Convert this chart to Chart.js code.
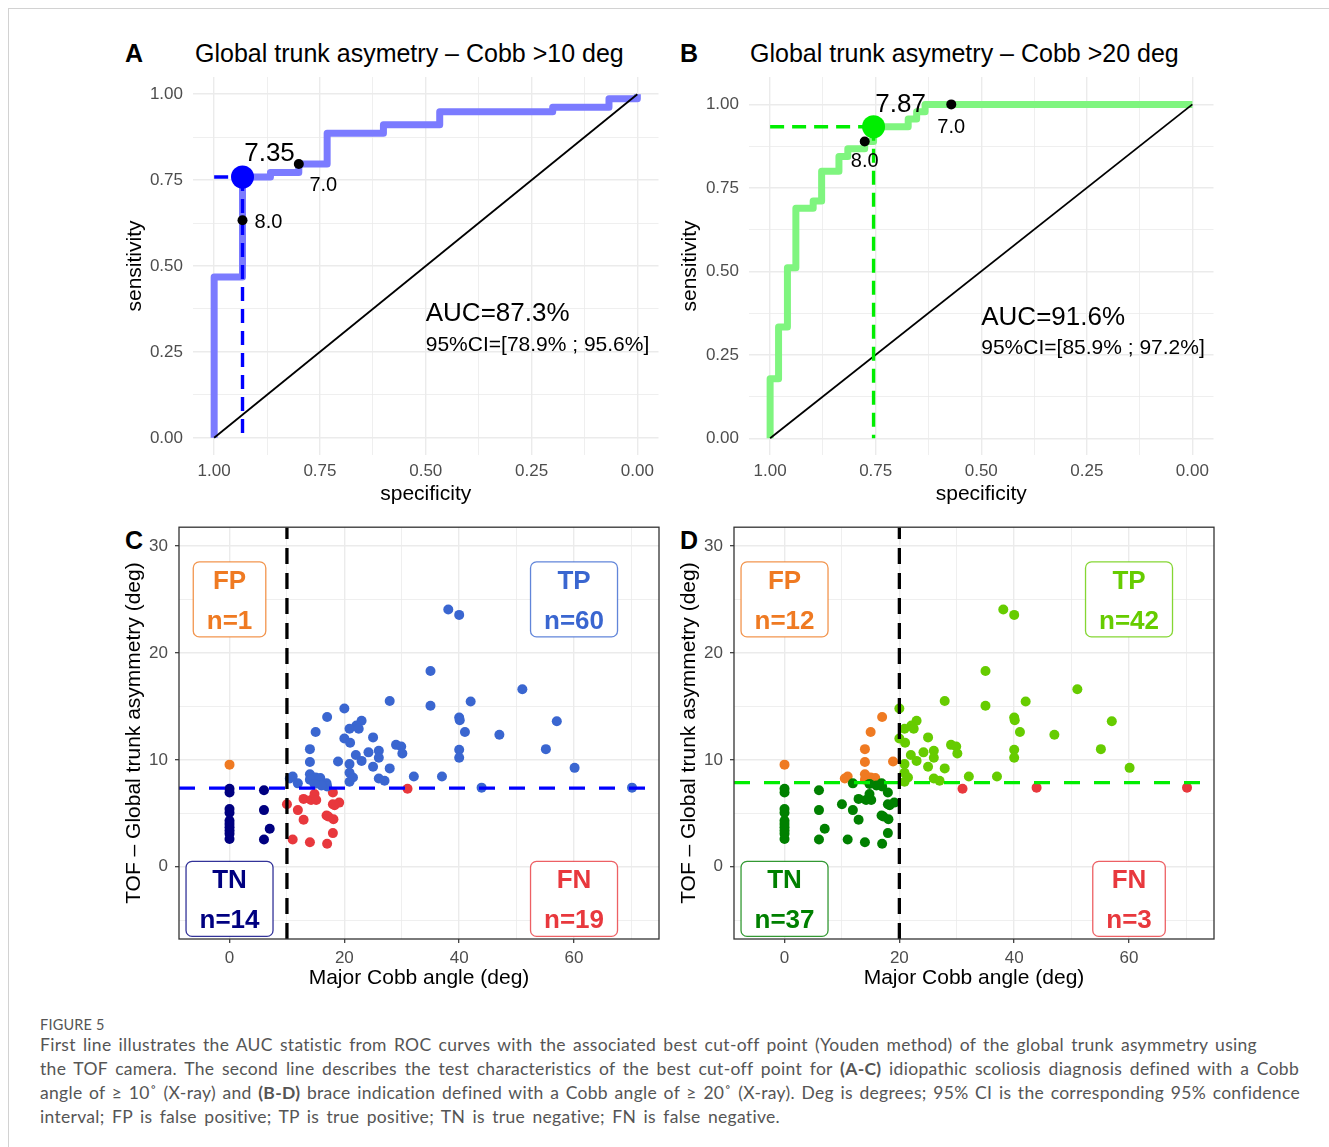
<!DOCTYPE html>
<html>
<head>
<meta charset="utf-8">
<script src="https://cdn.jsdelivr.net/npm/chart.js@4.4.1/dist/chart.umd.min.js"></script>
<style>
  body { margin: 0; background: #fff; width: 1329px; height: 1147px; position: relative; overflow: hidden;
         font-family: "Liberation Sans", Arial, sans-serif; }
  .frame { position: absolute; left: 8px; top: 8px; width: 1321px; height: 1139px;
           border-top: 1px solid #d2d2d2; border-left: 1px solid #d2d2d2; }
  canvas { position: absolute; }
  .ttl { position: absolute; font-size: 25px; line-height: 30px; white-space: nowrap; color: #000; }
  .tag { position: absolute; font-size: 25px; line-height: 30px; font-weight: bold; color: #000; }
  .cap { position: absolute; left: 40px; font-family: Lato, "Open Sans", sans-serif; color: #555; }
  .capt { font-size: 17.5px; line-height: 24px; letter-spacing: 0.3px; }
  .capt span.l { display: inline-block; white-space: nowrap; }
</style>
</head>
<body>
<div class="frame"></div>

<div class="tag" style="left:125px;top:38px">A</div>
<div class="ttl" style="left:195px;top:38px">Global trunk asymetry – Cobb &gt;10 deg</div>
<div class="tag" style="left:680px;top:38px">B</div>
<div class="ttl" style="left:750px;top:38px">Global trunk asymetry – Cobb &gt;20 deg</div>
<div class="tag" style="left:125px;top:525px">C</div>
<div class="tag" style="left:680px;top:525px">D</div>

<canvas id="rocA" width="580" height="490" style="left:90px;top:30px"></canvas>
<canvas id="rocB" width="580" height="490" style="left:645px;top:30px"></canvas>
<canvas id="quadC" width="580" height="490" style="left:90px;top:510px"></canvas>
<canvas id="quadD" width="580" height="490" style="left:645px;top:510px"></canvas>

<div class="cap" style="top:1016px;font-size:14.5px;line-height:18px;letter-spacing:0.2px">FIGURE 5</div>
<div class="cap capt" style="top:1033px">
  <span class="l" data-w="1217">First line illustrates the AUC statistic from ROC curves with the associated best cut-off point (Youden method) of the global trunk asymmetry using</span><br>
  <span class="l" data-w="1259">the TOF camera. The second line describes the test characteristics of the best cut-off point for <b>(A-C)</b> idiopathic scoliosis diagnosis defined with a Cobb</span><br>
  <span class="l" data-w="1260">angle of ≥ 10˚ (X-ray) and <b>(B-D)</b> brace indication defined with a Cobb angle of ≥ 20˚ (X-ray). Deg is degrees; 95% CI is the corresponding 95% confidence</span><br>
  <span class="l" data-w="740">interval; FP is false positive; TP is true positive; TN is true negative; FN is false negative.</span>
</div>

<script>
// ROC curves, path vertices (specificity, sensitivity)
const rocASpec = [1, 1, 0.933, 0.933, 0.867, 0.867, 0.8, 0.8, 0.733, 0.733, 0.6, 0.6, 0.467, 0.467, 0.2, 0.2, 0.067, 0.067, 0, 0];
const rocASens = [0, 0.468, 0.468, 0.759, 0.759, 0.772, 0.772, 0.797, 0.797, 0.886, 0.886, 0.911, 0.911, 0.949, 0.949, 0.962, 0.962, 0.987, 0.987, 1];
const rocBSpec = [1, 1, 0.980, 0.980, 0.959, 0.959, 0.939, 0.939, 0.898, 0.898, 0.878, 0.878, 0.837, 0.837, 0.816, 0.816, 0.776, 0.776, 0.755, 0.755, 0.673, 0.673, 0.653, 0.653, 0.633, 0.633, 0];
const rocBSens = [0, 0.178, 0.178, 0.333, 0.333, 0.511, 0.511, 0.689, 0.689, 0.711, 0.711, 0.8, 0.8, 0.844, 0.844, 0.867, 0.867, 0.889, 0.889, 0.933, 0.933, 0.956, 0.956, 0.978, 0.978, 1, 1];

// thresholds: first one is the best cut-off (Youden)
const thrALabel = ['7.35', '7.0', '8.0'];
const thrASpec = [0.933, 0.8, 0.933];
const thrASens = [0.759, 0.797, 0.633];
const thrBLabel = ['7.87', '7.0', '8.0'];
const thrBSpec = [0.755, 0.571, 0.776];
const thrBSens = [0.933, 1.0, 0.889];

const aucText = ['AUC=87.3%', 'AUC=91.6%'];
const ciText = ['95%CI=[78.9% ; 95.6%]', '95%CI=[85.9% ; 97.2%]'];

// scatter: major Cobb angle vs TOF global trunk asymmetry (deg)
const cobbAngle = [
  0, 0, 0, 0, 0, 0, 0, 0, 0, 0, 6, 6, 7, 6,
  0,
  10.0, 11.0, 11.9, 12.9, 12.9, 14.0, 14.2, 14.8, 15.1, 16.9, 17.0, 17.2, 18.0, 18.0, 18.1, 18.0, 19.1, 18.3, 31.0,
  17.0, 15.0, 14.0, 18.9, 14.0, 14.0, 11.0, 15.0, 14.0, 10.5, 15.8, 11.9, 16.9, 17.0, 16.0, 14.8,
  38.1, 40.0, 35.0, 51.0, 27.9, 42.0, 35.0, 20.0, 23.0, 22.1, 20.9, 57.0, 40.0, 40.1, 41.0, 47.0, 25.0, 20.0, 21.0, 29.0,
  29.9, 30.1, 26.0, 26.0, 40.0, 40.0, 55.1, 22.0, 23.0, 20.9, 25.0, 27.9, 60.1, 20.9, 26.0, 27.0, 32.1, 37.0, 20.9, 21.5,
  24.2, 22.5, 43.9, 70.1
];
const tofAsym = [
  7.3, 6.95, 5.4, 5.05, 4.3, 4.0, 3.7, 3.4, 3.1, 2.6, 7.15, 5.3, 3.55, 2.55,
  9.55,
  5.85, 2.55, 5.3, 4.4, 6.35, 2.3, 6.25, 6.8, 6.25, 4.8, 2.15, 4.7, 6.95, 5.85, 4.45, 3.15, 6.0, 5.75, 7.3,
  14.0, 12.6, 11.0, 9.85, 9.8, 8.65, 8.45, 8.35, 8.15, 8.25, 8.3, 7.8, 7.8, 7.5, 7.6, 7.75,
  24.05, 23.55, 18.3, 16.6, 15.5, 15.45, 15.05, 14.8, 13.65, 13.2, 12.9, 13.6, 13.95, 13.7, 12.6, 12.35, 12.1, 12.0, 11.6, 11.4,
  11.25, 10.6, 10.85, 10.2, 10.95, 10.2, 11.0, 10.45, 9.9, 9.6, 9.35, 9.2, 9.25, 8.8, 8.25, 8.05, 8.45, 8.45, 7.95, 8.35,
  10.7, 12.9, 7.4, 7.4
];

// cut-offs [Cobb, TOF]
const cutC = [10, 7.35];
const cutD = [20, 7.87];

const quadNames = ['FP', 'TP', 'TN', 'FN'];
const quadCobb = [0, 60, 0, 60];
const quadTof = [25, 25, -3, -3];
const countsC = [1, 60, 14, 19];
const countsD = [12, 42, 37, 3];

// caption lines: stretch word spacing so each line ends where the reference does
document.querySelectorAll('.capt span.l').forEach(el => {
  const target = +el.dataset.w;
  const spaces = (el.textContent.match(/ /g) || []).length;
  const natural = el.getBoundingClientRect().width;
  el.style.wordSpacing = ((target - natural) / spaces).toFixed(2) + 'px';
});

Chart.defaults.font.family = '"Liberation Sans", Arial, sans-serif';
Chart.defaults.color = '#4d4d4d';

const FONT = '"Liberation Sans", Arial, sans-serif';
const pts = (xs, ys) => xs.map((x, i) => ({ x: x, y: ys[i] }));
const near = (v, step) => Math.abs(v / step - Math.round(v / step)) < 1e-6;

function rocChart(id, o) {
  const best = { s: o.spec[0], n: o.sens[0] };
  const textPlugin = {
    id: 'rocText',
    afterDatasetsDraw(chart) {
      const { ctx, scales: { x, y } } = chart;
      ctx.save();
      ctx.fillStyle = '#000';
      ctx.textBaseline = 'alphabetic';
      ctx.textAlign = 'center';
      o.labels.forEach((t, i) => {
        const size = i === 0 ? 26 : 20;
        ctx.font = size + 'px ' + FONT;
        ctx.fillText(t, x.getPixelForValue(o.spec[i]) + o.off[i][0],
                     y.getPixelForValue(o.sens[i]) + o.off[i][1] + size * 0.358);
      });
      ctx.textAlign = 'left';
      ctx.font = '26px ' + FONT;
      ctx.fillText(o.auc, x.getPixelForValue(0.5), y.getPixelForValue(0.367) + 26 * 0.358);
      ctx.font = '21px ' + FONT;
      ctx.fillText(o.ci, x.getPixelForValue(0.5), y.getPixelForValue(0.275) + 21 * 0.358);
      ctx.restore();
    }
  };
  const ticks = [0, 0.125, 0.25, 0.375, 0.5, 0.625, 0.75, 0.875, 1];
  const grid = {
    color: '#ebebeb',
    lineWidth: c => (c.tick && near(c.tick.value, 0.25)) ? 1.4 : 0.8,
    drawTicks: false
  };
  return new Chart(document.getElementById(id), {
    type: 'line',
    data: {
      datasets: [
        { data: pts(o.rocSpec, o.rocSens), borderColor: o.light, borderWidth: 7, borderJoinStyle: 'round', pointRadius: 0, order: 5 },
        { data: [{ x: 1, y: 0 }, { x: 0, y: 1 }], borderColor: '#000', borderWidth: 1.8, pointRadius: 0, order: 4 },
        { data: [{ x: 1, y: best.n }, { x: best.s, y: best.n }], borderColor: o.dark, borderWidth: 3.4, borderDash: [14, 8], pointRadius: 0, order: 3 },
        { data: [{ x: best.s, y: best.n }, { x: best.s, y: 0 }], borderColor: o.dark, borderWidth: 3.4, borderDash: [14, 8], pointRadius: 0, order: 3 },
        { type: 'scatter', data: pts(o.spec.slice(1), o.sens.slice(1)), pointRadius: 5, pointBackgroundColor: '#000', pointBorderWidth: 0, order: 2 },
        { type: 'scatter', data: [{ x: best.s, y: best.n }], pointRadius: 11.5, pointBackgroundColor: o.dark, pointBorderWidth: 0, order: 1 }
      ]
    },
    options: {
      responsive: false, animation: false, devicePixelRatio: 1,
      layout: { padding: { top: 47, right: 11, left: 0, bottom: 0 } },
      plugins: { legend: { display: false }, tooltip: { enabled: false } },
      scales: {
        x: {
          type: 'linear', reverse: true, min: -0.05, max: 1.05,
          afterBuildTicks: s => { s.ticks = ticks.map(v => ({ value: v })); },
          afterFit: s => { s.height = 65; },
          grid: grid, border: { display: false },
          ticks: { autoSkip: false, maxRotation: 0, padding: 6.5, color: '#4d4d4d', font: { size: 17 },
                   callback: v => near(v, 0.25) ? v.toFixed(2) : '' },
          title: { display: true, text: 'specificity', color: '#000', font: { size: 21 }, padding: { top: 0, bottom: 13.4 } }
        },
        y: {
          type: 'linear', min: -0.05, max: o.yMax,
          afterBuildTicks: s => { s.ticks = ticks.map(v => ({ value: v })); },
          afterFit: s => { s.width = o.yW; },
          grid: grid, border: { display: false },
          ticks: { autoSkip: false, padding: 10, color: '#4d4d4d', font: { size: 17 },
                   callback: v => near(v, 0.25) ? v.toFixed(2) : '' },
          title: { display: true, text: 'sensitivity', color: '#000', font: { size: 21 }, padding: { top: 32.4, bottom: 0 } }
        }
      }
    },
    plugins: [textPlugin]
  });
}

rocChart('rocA', {
  rocSpec: rocASpec, rocSens: rocASens,
  labels: thrALabel, spec: thrASpec, sens: thrASens,
  off: [[27, -25], [24.5, 20], [26, 1]],
  auc: aucText[0], ci: ciText[0],
  light: '#7b7bff', dark: '#0000ff', yMax: 1.05, yW: 103
});
rocChart('rocB', {
  rocSpec: rocBSpec, rocSens: rocBSens,
  labels: thrBLabel, spec: thrBSpec, sens: thrBSens,
  off: [[27, -24], [0, 21], [0, 18]],
  auc: aucText[1], ci: ciText[1],
  light: '#7ff57f', dark: '#00ee00', yMax: 1.082, yW: 104
});

function roundBox(ctx, x, y, w, h, r) {
  ctx.beginPath();
  ctx.moveTo(x + r, y);
  ctx.lineTo(x + w - r, y); ctx.arcTo(x + w, y, x + w, y + r, r);
  ctx.lineTo(x + w, y + h - r); ctx.arcTo(x + w, y + h, x + w - r, y + h, r);
  ctx.lineTo(x + r, y + h); ctx.arcTo(x, y + h, x, y + h - r, r);
  ctx.lineTo(x, y + r); ctx.arcTo(x, y, x + r, y, r);
  ctx.closePath();
}

function quadChart(id, o) {
  const X0 = -8.8, X1 = 74.8, Y0 = -6.75, Y1 = 31.75;
  const colors = cobbAngle.map((c, i) => {
    const pos = c >= o.cut[0], hi = tofAsym[i] >= o.cut[1];
    return hi ? (pos ? o.col.TP : o.col.FP) : (pos ? o.col.FN : o.col.TN);
  });
  const boxPlugin = {
    id: 'quadBoxes',
    afterDatasetsDraw(chart) {
      const { ctx, chartArea: a, scales: { x, y } } = chart;
      ctx.save();
      ctx.font = 'bold 26px ' + FONT;
      ctx.textAlign = 'center';
      ctx.textBaseline = 'alphabetic';
      quadNames.forEach((q, i) => {
        const cx = x.getPixelForValue(quadCobb[i]), cy = y.getPixelForValue(quadTof[i]);
        const l2 = 'n=' + o.counts[i];
        const w = Math.max(ctx.measureText(q).width, ctx.measureText(l2).width) + 27, h = 75;
        roundBox(ctx, cx - w / 2, cy - h / 2, w, h, 6);
        ctx.fillStyle = '#fff'; ctx.fill();
        ctx.globalAlpha = 0.8; ctx.lineWidth = 1.3; ctx.strokeStyle = o.col[q]; ctx.stroke();
        ctx.globalAlpha = 1;
        ctx.fillStyle = o.col[q];
        ctx.fillText(q, cx, cy - 20 + 9.3);
        ctx.fillText(l2, cx, cy + 20 + 9.3);
      });
      ctx.strokeStyle = '#333'; ctx.lineWidth = 1.3;
      ctx.strokeRect(a.left, a.top, a.right - a.left, a.bottom - a.top);
      ctx.restore();
    }
  };
  const gridOf = step => ({
    color: '#ebebeb',
    lineWidth: c => (c.tick && near(c.tick.value, step)) ? 1.4 : 0.8,
    drawTicks: true, tickLength: 4,
    tickColor: c => (c.tick && near(c.tick.value, step)) ? '#333' : 'rgba(0,0,0,0)',
    tickWidth: 1.2
  });
  return new Chart(document.getElementById(id), {
    type: 'scatter',
    data: {
      datasets: [
        { data: pts(cobbAngle, tofAsym), pointRadius: 5, pointBackgroundColor: colors, pointBorderWidth: 0, order: 3 },
        { data: [{ x: X0, y: o.cut[1] }, { x: X1, y: o.cut[1] }], showLine: true, borderColor: o.hline, borderWidth: 3.3,
          borderDash: [16, 14], pointRadius: 0, order: 2 },
        { data: [{ x: o.cut[0], y: Y0 }, { x: o.cut[0], y: Y1 }], showLine: true, borderColor: '#000', borderWidth: 3.3,
          borderDash: [16, 9], pointRadius: 0, order: 1 }
      ]
    },
    options: {
      responsive: false, animation: false, devicePixelRatio: 1,
      layout: { padding: { top: 17, right: 11, left: 0, bottom: 0 } },
      plugins: { legend: { display: false }, tooltip: { enabled: false } },
      scales: {
        x: {
          type: 'linear', min: X0, max: X1,
          afterBuildTicks: s => { s.ticks = [0, 10, 20, 30, 40, 50, 60, 70].map(v => ({ value: v })); },
          afterFit: s => { s.height = 61; },
          grid: gridOf(20), border: { display: false },
          ticks: { autoSkip: false, maxRotation: 0, padding: 4.8, color: '#4d4d4d', font: { size: 17 },
                   callback: v => near(v, 20) ? String(v) : '' },
          title: { display: true, text: 'Major Cobb angle (deg)', color: '#000', font: { size: 21 }, padding: { top: 0, bottom: 9.4 } }
        },
        y: {
          type: 'linear', min: Y0, max: Y1,
          afterBuildTicks: s => { s.ticks = [-5, 0, 5, 10, 15, 20, 25, 30].map(v => ({ value: v })); },
          afterFit: s => { s.width = 89; },
          grid: gridOf(10), border: { display: false },
          ticks: { autoSkip: false, padding: 7, color: '#4d4d4d', font: { size: 17 },
                   callback: v => near(v, 10) ? String(v) : '' },
          title: { display: true, text: 'TOF – Global trunk asymmetry (deg)', color: '#000', font: { size: 21 }, padding: { top: 31.4, bottom: 0 } }
        }
      }
    },
    plugins: [boxPlugin]
  });
}

quadChart('quadC', {
  cut: cutC, counts: countsC, hline: '#0000ff',
  col: { TP: '#3a66d0', FP: '#ef7a22', TN: '#000080', FN: '#e8383d' }
});
quadChart('quadD', {
  cut: cutD, counts: countsD, hline: '#00ee00',
  col: { TP: '#66cc00', FP: '#ef7a22', TN: '#008000', FN: '#e8383d' }
});
</script>
</body>
</html>
